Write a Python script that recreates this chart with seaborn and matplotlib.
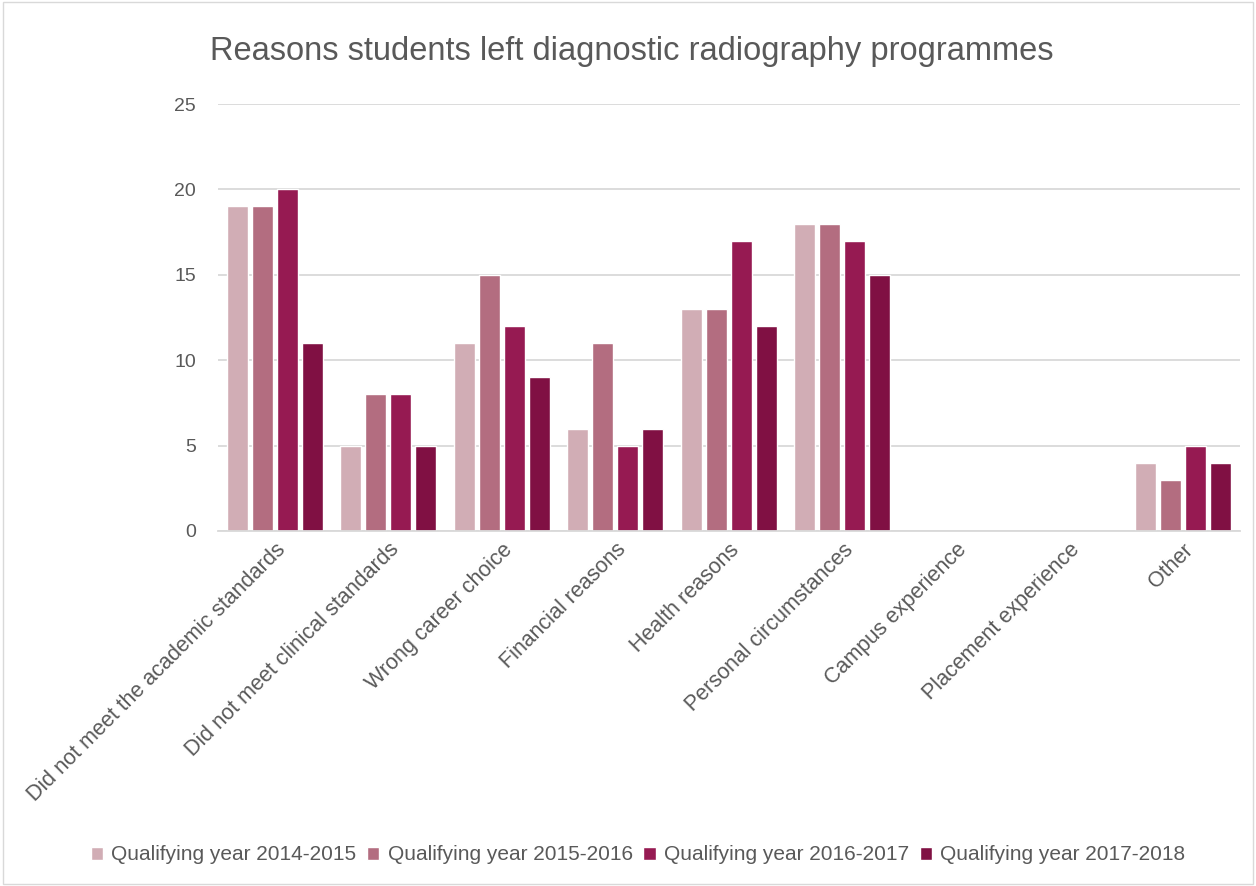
import matplotlib
matplotlib.use("Agg")
import matplotlib.pyplot as plt
import seaborn as sns
import pandas as pd
from matplotlib.patches import Rectangle

categories = ["Did not meet the academic standards", "Did not meet clinical standards",
              "Wrong career choice", "Financial reasons", "Health reasons",
              "Personal circumstances", "Campus experience", "Placement experience", "Other"]
series_names = ["Qualifying year 2014-2015", "Qualifying year 2015-2016",
                "Qualifying year 2016-2017", "Qualifying year 2017-2018"]
y2014 = [19, 5, 11, 6, 13, 18, 0, 0, 4]
y2015 = [19, 8, 15, 11, 13, 18, 0, 0, 3]
y2016 = [20, 8, 12, 5, 17, 17, 0, 0, 5]
y2017 = [11, 5, 9, 6, 12, 15, 0, 0, 4]
colors = ["#D1ADB5", "#B36D80", "#961A52", "#801043"]

rows = []
for name, vals in zip(series_names, [y2014, y2015, y2016, y2017]):
    for c, v in zip(categories, vals):
        rows.append({"Category": c, "Series": name, "Value": v})
df = pd.DataFrame(rows)

sns.set_theme(style="white")
plt.rcParams['font.family'] = ['Liberation Sans', 'DejaVu Sans']
text_color = "#595959"

fig = plt.figure(figsize=(12.56, 8.86), dpi=100)
ax = fig.add_axes([0.1736, 0.4007, 0.8134, 0.4819])
sns.barplot(data=df, x="Category", y="Value", hue="Series", palette=colors,
            width=0.88, gap=0.16, ax=ax, legend=True, order=categories,
            hue_order=series_names, saturation=1)

ax.set_ylim(0, 25)
ax.set_yticks([0, 5, 10, 15, 20, 25])
ax.set_xlim(-0.5, len(categories) - 0.5)
ax.yaxis.grid(True, color="#D9D9D9", linewidth=1.3)
ax.set_axisbelow(True)
for s in ["top", "right", "left"]:
    ax.spines[s].set_visible(False)
ax.spines["bottom"].set_color("#D9D9D9")
ax.spines["bottom"].set_linewidth(1.3)
ax.set_xlabel("")
ax.set_ylabel("")
ax.tick_params(axis="y", length=0, pad=16, labelsize=14, labelcolor=text_color)
ax.tick_params(axis="x", length=0, pad=6, labelsize=15.5, labelcolor=text_color)
plt.setp(ax.get_xticklabels(), rotation=45, ha="right", rotation_mode="anchor")

fig.text(0.503, 0.942, "Reasons students left diagnostic radiography programmes",
         ha="center", va="center", fontsize=23.5, color=text_color)

handles, labels = ax.get_legend_handles_labels()
ax.legend_.remove()
fig.legend(handles, labels, loc="center", bbox_to_anchor=(0.508, 0.035), ncol=4,
           frameon=False, fontsize=15, labelcolor=text_color, handlelength=0.6,
           handleheight=0.6, handletextpad=0.4, columnspacing=0.5)

fig.patches.append(Rectangle((0.002, 0.002), 0.996, 0.996, transform=fig.transFigure,
                             fill=False, edgecolor="#D9D9D9", linewidth=1))
fig.savefig("out.png", dpi=100, facecolor="white")
